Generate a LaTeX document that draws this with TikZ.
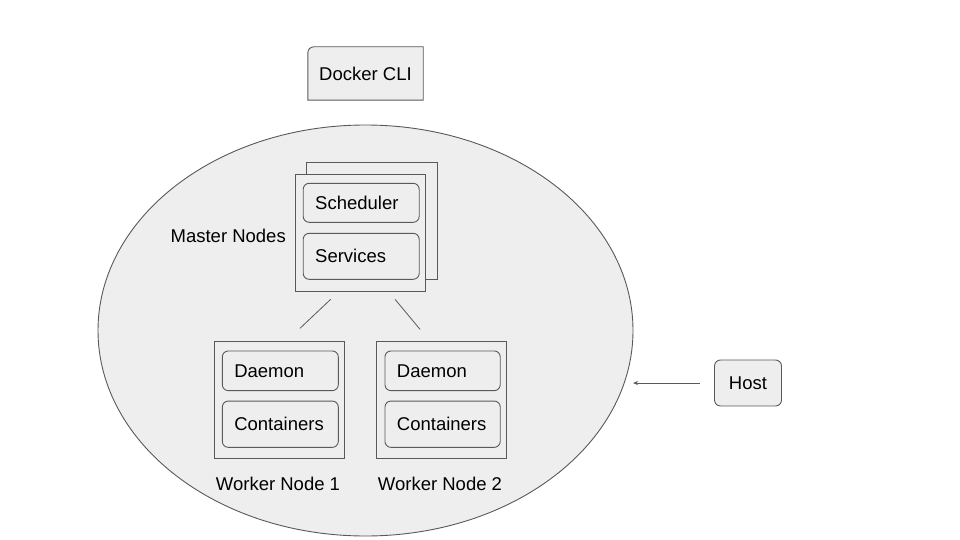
\documentclass[tikz,border=0pt]{standalone}
\usepackage{fontspec}
\setmainfont{Liberation Sans}
\usetikzlibrary{arrows.meta,backgrounds,shapes.geometric}
\definecolor{boxfill}{HTML}{EEEEEE}
\definecolor{edge}{HTML}{595959}
\tikzset{
  lbl/.style={font=\fontsize{18.5}{22}\selectfont, text=black},
  frame/.style={draw=edge, line width=0.9pt, fill=boxfill, inner sep=0pt},
  inbox/.style={frame, rounded corners=6pt, align=left, inner xsep=12pt, lbl},
  conn/.style={draw=edge, line width=0.8pt},
}
\begin{document}
\begin{tikzpicture}[x=1pt,y=-1pt]
\useasboundingbox (0,0) rectangle (960,540);
% host ellipse
\node (host area) [draw=edge, line width=0.9pt, fill=boxfill, ellipse, inner sep=0pt,
  minimum width=535pt, minimum height=411pt] at (365.5,330.5) {};

% Docker CLI
\node (cli) [lbl, minimum width=115pt, minimum height=53pt, inner sep=0pt] at (365.5,73.5) {Docker CLI};
\begin{scope}[on background layer]
\draw[draw=edge, line width=0.9pt, fill=boxfill]
  (cli.south west) -- ([yshift=-6pt]cli.north west) arc[start angle=180,end angle=90,radius=6pt]
  -- (cli.north east) -- (cli.south east) -- cycle;
\end{scope}

% master nodes
\node (mback) [frame, minimum width=131pt, minimum height=117pt] at (372,220.6) {};
\node (mfront) [frame, minimum width=130pt, minimum height=117pt] at (360.5,232.8) {};
\node (sched) [inbox, text width=92pt, minimum height=39pt] at (361.2,202.8) {Scheduler};
\node (serv) [inbox, text width=92pt, minimum height=46pt] at (361.2,256.3) {Services};
\node (mlabel) [lbl, anchor=east, inner sep=0pt] at (286,236) {Master Nodes};

% workers
\node (w1) [frame, minimum width=130pt, minimum height=117pt] at (279.3,399.6) {};
\node (d1) [inbox, text width=92pt, minimum height=39.7pt] at (280.3,370.8) {Daemon};
\node (c1) [inbox, text width=92pt, minimum height=46.3pt] at (280.3,424.2) {Containers};
\node (w1l) [lbl, inner sep=0pt] at (278,484) {Worker Node 1};

\node (w2) [frame, minimum width=130pt, minimum height=117pt] at (441,399.6) {};
\node (d2) [inbox, text width=91.3pt, minimum height=39.7pt] at (442.6,370.8) {Daemon};
\node (c2) [inbox, text width=91.3pt, minimum height=46.3pt] at (442.6,424.2) {Containers};
\node (w2l) [lbl, inner sep=0pt] at (440,484) {Worker Node 2};

% connectors (free-floating short lines)
\coordinate (l1a) at (330.7,299.3);
\coordinate (l1b) at (300,328.3);
\coordinate (l2a) at (395,299.3);
\coordinate (l2b) at (420,329.3);
\draw[conn] (l1a) -- (l1b);
\draw[conn] (l2a) -- (l2b);

% Host
\node (host) [frame, rounded corners=6pt, lbl, minimum width=67pt, minimum height=46pt] at (748,383) {Host};
\coordinate (arrowstart) at (700,383);
\coordinate (arrowend) at (633,383);
\draw[conn, line width=0.6pt, -{Stealth[length=5pt,width=4pt]}] (arrowstart) -- (arrowend);
\end{tikzpicture}
\end{document}
